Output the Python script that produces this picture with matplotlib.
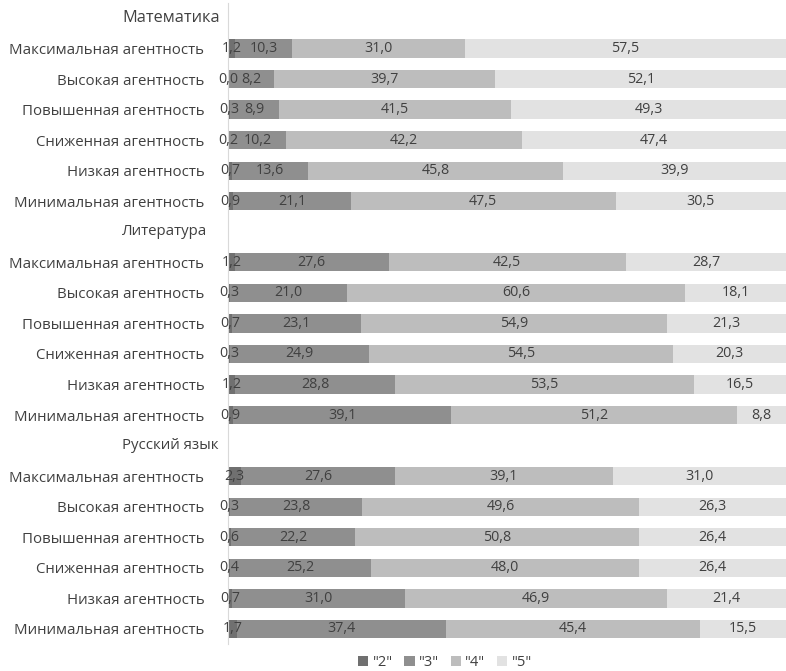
import numpy as np
import matplotlib
matplotlib.use('Agg')
import matplotlib.pyplot as plt
from matplotlib.transforms import blended_transform_factory

plt.rcParams['font.family'] = ['Open Sans', 'DejaVu Sans']

# Data (percent of grades per agency level)
subjects = ['Математика', 'Литература', 'Русский язык']
levels = ['Максимальная агентность', 'Высокая агентность', 'Повышенная агентность',
          'Сниженная агентность', 'Низкая агентность', 'Минимальная агентность']
grades = ['"2"', '"3"', '"4"', '"5"']

math_vals = [[1.2, 10.3, 31.0, 57.5],
             [0.0, 8.2, 39.7, 52.1],
             [0.3, 8.9, 41.5, 49.3],
             [0.2, 10.2, 42.2, 47.4],
             [0.7, 13.6, 45.8, 39.9],
             [0.9, 21.1, 47.5, 30.5]]
lit_vals = [[1.2, 27.6, 42.5, 28.7],
            [0.3, 21.0, 60.6, 18.1],
            [0.7, 23.1, 54.9, 21.3],
            [0.3, 24.9, 54.5, 20.3],
            [1.2, 28.8, 53.5, 16.5],
            [0.9, 39.1, 51.2, 8.8]]
rus_vals = [[2.3, 27.6, 39.1, 31.0],
            [0.3, 23.8, 49.6, 26.3],
            [0.6, 22.2, 50.8, 26.4],
            [0.4, 25.2, 48.0, 26.4],
            [0.7, 31.0, 46.9, 21.4],
            [1.7, 37.4, 45.4, 15.5]]

colors = ['#707070', '#8f8f8f', '#bdbdbd', '#e2e2e2']
txt = '#404040'

# build rows: header row (no bar) followed by six level rows per subject
labels, rows, headers = [], [], []
for subj, vals in zip(subjects, [math_vals, lit_vals, rus_vals]):
    headers.append((len(labels), subj))
    labels.append('')
    rows.append(None)
    for lev, v in zip(levels, vals):
        labels.append(lev)
        rows.append(v)

fig = plt.figure(figsize=(7.86, 6.71), dpi=100)
ax = fig.add_axes([228/786, 0.04, 1 - 228/786, 0.956])

y = np.arange(len(labels))
for i, r in enumerate(rows):
    if r is None:
        continue
    left = 0
    for j, v in enumerate(r):
        ax.barh(i, v, left=left, height=0.6, color=colors[j],
                label=grades[j] if i == 1 else None)
        ax.text(left + v / 2, i, f'{v:.1f}'.replace('.', ','), ha='center',
                va='center', fontsize=10.3, color=txt)
        left += v

ax.set_xlim(0, 100)
ax.set_ylim(len(labels) - 0.5, -0.5)
ax.set_yticks(y)
ax.set_yticklabels(labels, fontsize=10.8, color=txt)
ax.tick_params(axis='y', length=0, pad=17)
ax.set_xticks([])
for s in ['top', 'right', 'bottom']:
    ax.spines[s].set_visible(False)
ax.spines['left'].set_color('#d9d9d9')

tr = blended_transform_factory(fig.transFigure, ax.transData)
for i, subj in headers:
    ax.text(122/786, i, subj, transform=tr, ha='left', va='center',
            fontsize=10.8 if i else 11.8, color=txt)

fig.legend(loc='lower center', bbox_to_anchor=(445/786, -0.018), ncol=4,
           frameon=False, fontsize=10.5, handlelength=0.7, handleheight=0.7,
           handletextpad=0.3, columnspacing=0.8, labelcolor=txt)

fig.savefig('out.png', dpi=100)
